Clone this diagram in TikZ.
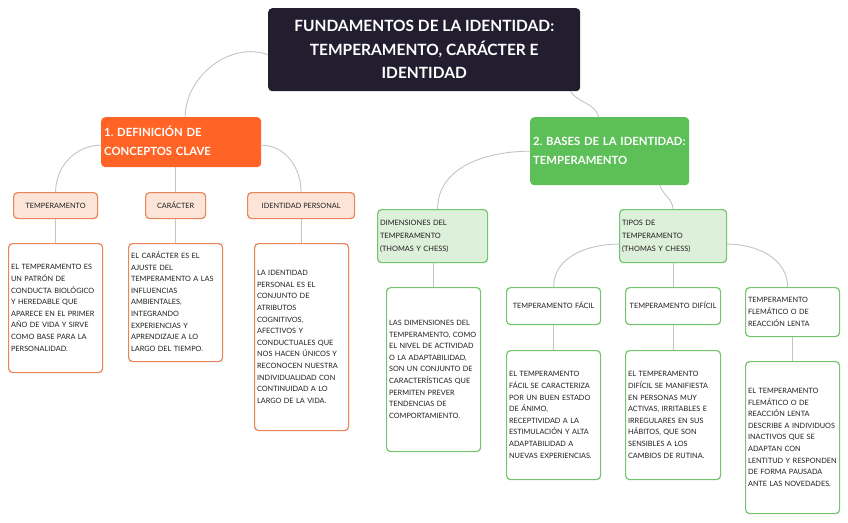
\documentclass[tikz,border=0pt]{standalone}
\usepackage{fontspec}
\setmainfont{Lato}
\usetikzlibrary{calc}
\frenchspacing
\definecolor{rootC}{HTML}{221D2F}
\definecolor{orangeC}{HTML}{FF6426}
\definecolor{peachC}{HTML}{FDE4D9}
\definecolor{orangeB}{HTML}{EA8559}
\definecolor{greenC}{HTML}{5DBF57}
\definecolor{lgreenC}{HTML}{DDF0D9}
\definecolor{greenB}{HTML}{74C66D}
\definecolor{connC}{HTML}{C4C4C4}
\definecolor{txtC}{HTML}{1E1E1E}
\newcommand\mylines[1]{\begin{tabular}{@{}l@{}}#1\end{tabular}}
\tikzset{
  conn/.style={draw=connC, line width=0.9pt},
  base/.style={anchor=north west, rounded corners=4pt, inner ysep=0pt},
  rootbox/.style={base, fill=rootC, text=white, align=center, inner xsep=0pt,
    font=\bfseries\fontsize{15.5}{23.5}\selectfont},
  mainbox/.style={base, text=white, align=left, inner xsep=3pt,
    font=\bfseries\fontsize{11.3}{18.5}\selectfont},
  obox/.style={mainbox, fill=orangeC},
  gbox/.style={mainbox, fill=greenC},
  small/.style={base, text=txtC, line width=1.2pt, font=\fontsize{7.3}{11.6}\selectfont},
  ohead/.style={small, fill=peachC, draw=orangeB, align=center, inner xsep=0pt},
  otext/.style={small, fill=white, draw=orangeB, align=left, inner xsep=2.5pt},
  ghead/.style={small, fill=lgreenC, draw=greenB, align=left, inner xsep=2.5pt,
    font=\fontsize{7.4}{13}\selectfont},
  gtext/.style={small, fill=white, draw=greenB, align=left, inner xsep=2.5pt},
}
\begin{document}
\begin{tikzpicture}[x=1pt,y=-1pt]
\useasboundingbox[fill=white] (0,0) rectangle (848,522);

% root
\node[rootbox, minimum width=312pt, minimum height=83pt] (root) at (268,8)
  {FUNDAMENTOS DE LA IDENTIDAD:\\TEMPERAMENTO, CARÁCTER E\\IDENTIDAD};

% main branches
\node[obox, text width=154pt, minimum height=50pt] (def) at (101,117)
  {\mylines{1. DEFINICIÓN DE\\CONCEPTOS CLAVE}};
\node[gbox, text width=153pt, minimum height=68pt] (bases) at (530,117)
  {\mylines{2. BASES DE LA IDENTIDAD:\\TEMPERAMENTO}};

% left headers
\node[ohead, minimum width=84pt, minimum height=26pt] (temp) at (13,192) {TEMPERAMENTO};
\node[ohead, minimum width=60pt, minimum height=26pt] (car) at (145,192) {CARÁCTER};
\node[ohead, minimum width=107pt, minimum height=26pt] (ident) at (247,192) {IDENTIDAD PERSONAL};

% left texts
\node[otext, text width=89pt, minimum height=129pt] (t1) at (8,243)
  {\mylines{EL TEMPERAMENTO ES\\UN PATRÓN DE\\CONDUCTA BIOLÓGICO\\Y HEREDABLE QUE\\APARECE EN EL PRIMER\\AÑO DE VIDA Y SIRVE\\COMO BASE PARA LA\\PERSONALIDAD.}};
\node[otext, text width=89pt, minimum height=118pt] (t2) at (128,243)
  {\mylines{EL CARÁCTER ES EL\\AJUSTE DEL\\TEMPERAMENTO A LAS\\INFLUENCIAS\\AMBIENTALES,\\INTEGRANDO\\EXPERIENCIAS Y\\APRENDIZAJE A LO\\LARGO DEL TIEMPO.}};
\node[otext, text width=89pt, minimum height=187pt] (t3) at (254,243)
  {\mylines{LA IDENTIDAD\\PERSONAL ES EL\\CONJUNTO DE\\ATRIBUTOS\\COGNITIVOS,\\AFECTIVOS Y\\CONDUCTUALES QUE\\NOS HACEN ÚNICOS Y\\RECONOCEN NUESTRA\\INDIVIDUALIDAD CON\\CONTINUIDAD A LO\\LARGO DE LA VIDA.}};

% right headers
\node[ghead, text width=105pt, minimum height=53pt] (dim) at (377,209)
  {\mylines{DIMENSIONES DEL\\TEMPERAMENTO\\(THOMAS Y CHESS)}};
\node[ghead, text width=102pt, minimum height=53pt] (tipos) at (619,209)
  {\mylines{TIPOS DE\\TEMPERAMENTO\\(THOMAS Y CHESS)}};
\node[gtext, text width=89pt, minimum height=164pt] (dimt) at (386,287)
  {\mylines{LAS DIMENSIONES DEL\\TEMPERAMENTO, COMO\\EL NIVEL DE ACTIVIDAD\\O LA ADAPTABILIDAD,\\SON UN CONJUNTO DE\\CARACTERÍSTICAS QUE\\PERMITEN PREVER\\TENDENCIAS DE\\COMPORTAMIENTO.}};

\node[gtext, align=center, text width=89pt, minimum height=37pt] (facil) at (506,287) {\mylines{TEMPERAMENTO FÁCIL}};
\node[gtext, align=center, text width=90pt, minimum height=37pt] (dif) at (625,287) {\mylines{TEMPERAMENTO DIFÍCIL}};
\node[gtext, text width=89pt, minimum height=49pt] (flem) at (745,287)
  {\mylines{TEMPERAMENTO\\FLEMÁTICO O DE\\REACCIÓN LENTA}};

\node[gtext, text width=89pt, minimum height=129pt] (facilt) at (506,350)
  {\mylines{EL TEMPERAMENTO\\FÁCIL SE CARACTERIZA\\POR UN BUEN ESTADO\\DE ÁNIMO,\\RECEPTIVIDAD A LA\\ESTIMULACIÓN Y ALTA\\ADAPTABILIDAD A\\NUEVAS EXPERIENCIAS.}};
\node[gtext, text width=90pt, minimum height=129pt] (dift) at (625,350)
  {\mylines{EL TEMPERAMENTO\\DIFÍCIL SE MANIFIESTA\\EN PERSONAS MUY\\ACTIVAS, IRRITABLES E\\IRREGULARES EN SUS\\HÁBITOS, QUE SON\\SENSIBLES A LOS\\CAMBIOS DE RUTINA.}};
\node[gtext, text width=89pt, minimum height=152pt] (flemt) at (745,361)
  {\mylines{EL TEMPERAMENTO\\FLEMÁTICO O DE\\REACCIÓN LENTA\\DESCRIBE A INDIVIDUOS\\INACTIVOS QUE SE\\ADAPTAN CON\\LENTITUD Y RESPONDEN\\DE FORMA PAUSADA\\ANTE LAS NOVEDADES.}};

% connectors
\draw[conn] ($(root.west)+(0,5)$) to[out=160,in=90] ($(def.north)+(4,0)$);
\draw[conn] ($(root.south east)+(-10,0)$) to[out=-55,in=105] ($(bases.north)+(-11,0)$);
\draw[conn] ($(def.west)+(0,3)$) to[out=180,in=90] (temp.north);
\draw[conn] (car.north) -- (car.north |- def.south);
\draw[conn] ($(def.east)+(0,3)$) to[out=0,in=90] (ident.north);
\draw[conn] (temp.south) -- (temp.south |- t1.north);
\draw[conn] (car.south) -- (car.south |- t2.north);
\draw[conn] (ident.south) -- (ident.south |- t3.north);
\draw[conn] (bases.west) to[out=180,in=90] ($(dim.north)+(5,0)$);
\draw[conn] ($(bases.south)+(50,0)$) to[out=-70,in=95] (tipos.north);
\draw[conn] (dimt.north) -- (dimt.north |- dim.south);
\draw[conn] ($(tipos.west)+(0,8)$) to[out=180,in=90] (facil.north);
\draw[conn] (tipos.south) -- (tipos.south |- dif.north);
\draw[conn] ($(tipos.east)+(0,8)$) to[out=0,in=90] ($(flem.north)+(-5,0)$);
\draw[conn] (facil.south) -- (facilt.north);
\draw[conn] (dif.south) -- (dift.north);
\draw[conn] (flem.south) -- (flemt.north);
\end{tikzpicture}
\end{document}
